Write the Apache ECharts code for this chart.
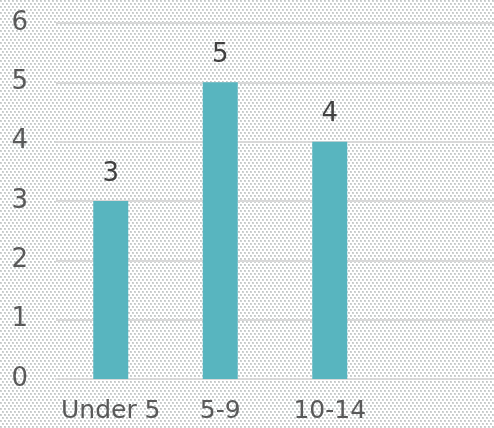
<!DOCTYPE html>
<html><head><meta charset="utf-8">
<script src="https://cdn.jsdelivr.net/npm/echarts@6/dist/echarts.min.js"></script>
<style>html,body{margin:0;padding:0;background:#fff}#c{width:494px;height:428px}</style>
</head><body><div id="c"></div>
<script>
var categories = ['Under 5', '5-9', '10-14', ''];
var values = [3, 5, 4, null];
var yTicks = [0, 1, 2, 3, 4, 5, 6];

var tile = document.createElement('canvas');
tile.width = 4; tile.height = 6;
var tc = tile.getContext('2d');
tc.fillStyle = '#ffffff'; tc.fillRect(0, 0, 4, 6);
tc.fillStyle = '#d0d4d4';
tc.fillRect(0, 0, 2, 2);
tc.fillRect(2, 3, 2, 2);
tc.fillStyle = '#c2c6c6';
tc.fillRect(0, 0, 1, 1);
tc.fillRect(2, 3, 1, 1);

var chart = echarts.init(document.getElementById('c'), null, {renderer: 'canvas'});
var font = 'DejaVu Sans';
chart.setOption({
  backgroundColor: {image: tile, repeat: 'repeat'},
  animation: false,
  grid: {left: 56, right: -5, top: 23, bottom: 49, containLabel: false},
  xAxis: {
    type: 'category', data: categories,
    axisLine: {show: true, lineStyle: {color: '#d9d9d9', width: 2}},
    axisTick: {show: false},
    axisLabel: {color: '#595959', fontSize: 25, fontFamily: font, margin: 20, interval: 0}
  },
  yAxis: {
    type: 'value', min: yTicks[0], max: yTicks[yTicks.length - 1], interval: 1,
    axisLine: {show: false}, axisTick: {show: false},
    splitLine: {lineStyle: {color: '#d9d9d9', width: 2}},
    axisLabel: {color: '#595959', fontSize: 26, fontFamily: font, margin: 28}
  },
  series: [{
    type: 'bar', data: values, barWidth: 35,
    itemStyle: {color: '#58b5bf'},
    label: {show: true, position: 'top', distance: 14, color: '#404040', fontSize: 26, fontFamily: font}
  }]
});
</script></body></html>
